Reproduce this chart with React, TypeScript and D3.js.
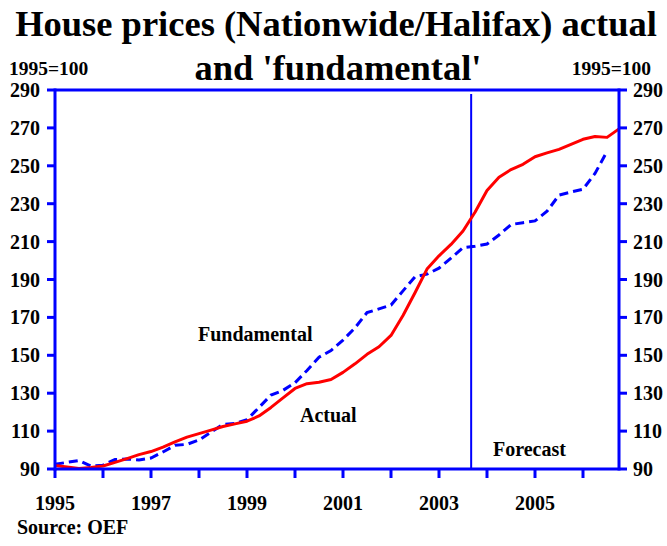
import React from "react";
import * as d3 from "d3";

const actualTimes = [
  1995.0, 1995.25, 1995.5, 1995.75, 1996.0, 1996.25, 1996.5, 1996.75,
  1997.0, 1997.25, 1997.5, 1997.75, 1998.0, 1998.25, 1998.5, 1998.75,
  1999.0, 1999.25, 1999.5, 1999.75, 2000.0, 2000.25, 2000.5, 2000.75,
  2001.0, 2001.25, 2001.5, 2001.75, 2002.0, 2002.25, 2002.5, 2002.75,
  2003.0, 2003.25, 2003.5, 2003.75, 2004.0, 2004.25, 2004.5, 2004.75,
  2005.0, 2005.25, 2005.5, 2005.75, 2006.0, 2006.25, 2006.5, 2006.75,
];
const actualValues = [
  91.8, 91.0, 90.3, 90.8, 91.6, 93.5, 95.5, 97.6,
  99.2, 101.5, 104.3, 106.8, 108.7, 110.5, 112.4, 113.8,
  115.2, 118.0, 122.5, 127.5, 132.5, 135.0, 135.8, 137.2,
  141.0, 145.5, 150.5, 154.5, 160.5, 171.0, 183.0, 195.5,
  202.5, 208.5, 215.6, 225.5, 237.0, 244.0, 248.0, 250.8,
  254.8, 256.8, 258.7, 261.3, 264.0, 265.5, 265.0, 269.5,
];
const fundamentalTimes = actualTimes.slice(0, 47);
const fundamentalValues = [
  92.5, 93.5, 94.5, 91.5, 92.0, 95.0, 95.3, 94.8,
  95.8, 99.0, 102.5, 103.0, 105.3, 109.5, 113.5, 114.0,
  116.0, 122.5, 129.0, 131.5, 135.5, 142.0, 149.0, 152.5,
  158.0, 164.5, 172.5, 174.5, 176.5, 184.0, 191.4, 192.8,
  196.0, 201.3, 206.8, 207.5, 208.7, 213.5, 219.0, 220.0,
  220.9, 226.0, 234.5, 236.2, 237.6, 246.0, 257.5,
];
const yTicks = [90, 110, 130, 150, 170, 190, 210, 230, 250, 270, 290];
const xTickYears = [1995, 1996, 1997, 1998, 1999, 2000, 2001, 2002, 2003, 2004, 2005, 2006];
const xLabelYears = [1995, 1997, 1999, 2001, 2003, 2005];
const forecastStart = 2003.67;

const BLUE = "#0000ff";
const RED = "#ff0000";
const FONT = "'Liberation Serif', 'Times New Roman', serif";

export default function App() {
  const left = 55, right = 619, top = 90, bottom = 469;
  const x = d3.scaleLinear().domain([1995, 2006.75]).range([left, right]);
  const y = d3.scaleLinear().domain([90, 290]).range([bottom, top]);

  const line = d3
    .line<[number, number]>()
    .x((d) => x(d[0]))
    .y((d) => y(d[1]));

  const actualPts = actualTimes.map((t, i) => [t, actualValues[i]] as [number, number]);
  const fundPts = fundamentalTimes.map((t, i) => [t, fundamentalValues[i]] as [number, number]);

  return (
    <svg width={667} height={546} style={{ position: "absolute", left: 0, top: 0, background: "#fff" }}
      fontFamily={FONT} fontWeight="bold">
      <rect x={0} y={0} width={667} height={546} fill="#fff" />
      <text x={336} y={36} textAnchor="middle" fontSize={36.5}>House prices (Nationwide/Halifax) actual</text>
      <text x={338} y={80} textAnchor="middle" fontSize={36.5}>and 'fundamental'</text>
      <text x={9} y={75} fontSize={19.5}>1995=100</text>
      <text x={651} y={75} textAnchor="end" fontSize={19.5}>1995=100</text>

      {/* forecast line */}
      <line x1={x(forecastStart)} x2={x(forecastStart)} y1={94} y2={bottom} stroke={BLUE} strokeWidth={2} />

      {/* lines */}
      <path d={line(fundPts) || ""} fill="none" stroke={BLUE} strokeWidth={3} strokeDasharray="9,5" />
      <path d={line(actualPts) || ""} fill="none" stroke={RED} strokeWidth={3} strokeLinejoin="round" />

      {/* frame */}
      <line x1={left} x2={right} y1={top} y2={top} stroke={BLUE} strokeWidth={3} />
      <line x1={left} x2={right} y1={bottom} y2={bottom} stroke={BLUE} strokeWidth={3} />
      <line x1={left} x2={left} y1={top - 1.5} y2={bottom + 1.5} stroke={BLUE} strokeWidth={3} />
      <line x1={right} x2={right} y1={top - 1.5} y2={bottom + 1.5} stroke={BLUE} strokeWidth={3} />

      {yTicks.map((v) => (
        <g key={v}>
          <line x1={left - 8} x2={left} y1={y(v)} y2={y(v)} stroke={BLUE} strokeWidth={3} />
          <line x1={right} x2={right + 8} y1={y(v)} y2={y(v)} stroke={BLUE} strokeWidth={3} />
          <text x={40} y={y(v) + 7} textAnchor="end" fontSize={20}>{v}</text>
          <text x={633} y={y(v) + 7} fontSize={20}>{v}</text>
        </g>
      ))}
      {xTickYears.map((t) => (
        <line key={t} x1={x(t)} x2={x(t)} y1={bottom} y2={bottom + 9} stroke={BLUE} strokeWidth={3} />
      ))}
      {xLabelYears.map((t) => (
        <text key={t} x={x(t)} y={510} textAnchor="middle" fontSize={20}>{t}</text>
      ))}

      <text x={198} y={341} fontSize={20}>Fundamental</text>
      <text x={300} y={422} fontSize={20}>Actual</text>
      <text x={493} y={456} fontSize={20}>Forecast</text>
      <text x={17} y={534} fontSize={20}>Source: OEF</text>
    </svg>
  );
}
